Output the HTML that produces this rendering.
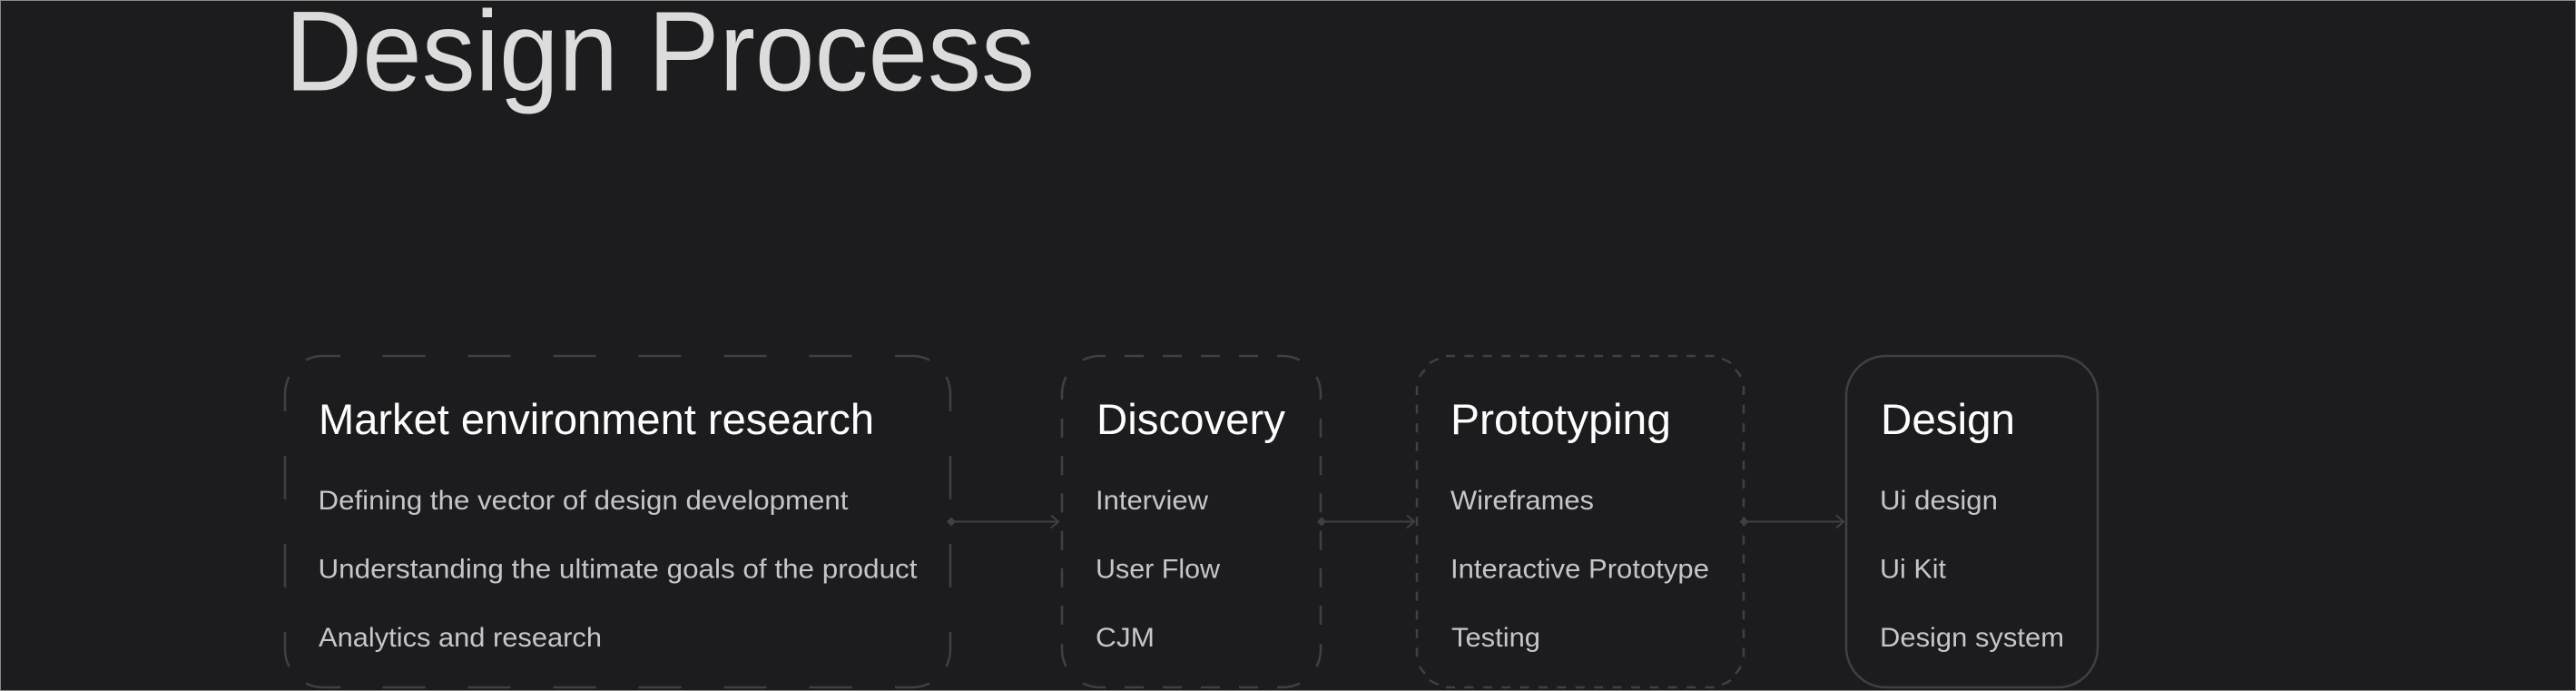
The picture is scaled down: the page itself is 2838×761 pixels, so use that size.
<!DOCTYPE html>
<html><head><meta charset="utf-8"><style>
html,body{margin:0;padding:0;background:#1c1c1e}
svg{display:block}
text{font-family:"Liberation Sans",sans-serif}
.h{font-size:47px;fill:#ffffff}
.i{font-size:30px;fill:#c6c6c8}
.b{fill:none;stroke:#404042;stroke-width:2.5}
.a{fill:none;stroke:#404042;stroke-width:2}
</style></head><body>
<svg width="2838" height="761" viewBox="0 0 2838 761" xmlns="http://www.w3.org/2000/svg">
<rect width="2838" height="761" fill="#1c1c1e"/>
<rect x="0.5" y="0.5" width="2837" height="760" fill="none" stroke="#8a8a8a" stroke-width="1"/>
<text x="314" y="99.5" font-size="125" fill="#dcdcdc" textLength="826" lengthAdjust="spacingAndGlyphs">Design Process</text>

<!-- Box 1 -->
<path class="b" d="M337 396.5A42 42 0 0 1 356 392H375M986 392H1005A42 42 0 0 1 1024 396.5M337 752.5A42 42 0 0 0 356 757H375M986 757H1005A42 42 0 0 0 1024 752.5M318.5 415A42 42 0 0 0 314 434V453M314 696V715A42 42 0 0 0 318.5 734M1042.5 415A42 42 0 0 1 1047 434V453M1047 696V715A42 42 0 0 1 1042.5 734M314 502V550M314 599V647M1047 502V550M1047 599V647"/>
<path class="b" stroke-dasharray="47 47" d="M421.5 392H939.5M421.5 757H939.5"/>

<!-- Box 2 -->
<path class="b" d="M1193 396.5A42 42 0 0 1 1212 392H1218M1407 392H1413A42 42 0 0 1 1432 396.5M1193 752.5A42 42 0 0 0 1212 757H1218M1407 757H1413A42 42 0 0 0 1432 752.5M1174.5 415A42 42 0 0 0 1170 434V440M1170 709V715A42 42 0 0 0 1174.5 734M1450.5 415A42 42 0 0 1 1455 434V440M1455 709V715A42 42 0 0 1 1450.5 734"/>
<path class="b" stroke-dasharray="21 21" d="M1239 392H1386M1239 757H1386"/>
<path class="b" stroke-dasharray="21 20.2" d="M1170 461V688M1455 461V688"/>

<!-- Box 3 -->
<path class="b" d="M1575 400A42 42 0 0 1 1585 395M1564 415A42 42 0 0 1 1570 407M1897 395A42 42 0 0 1 1907 400M1912 407A42 42 0 0 1 1918 415M1575 749A42 42 0 0 0 1585 754M1564 734A42 42 0 0 0 1570 742M1897 754A42 42 0 0 0 1907 749M1912 742A42 42 0 0 0 1918 734"/>
<path class="b" stroke-dasharray="10 10.4" d="M1593 392H1889M1593 757H1889"/>
<path class="b" stroke-dasharray="10 10.6" d="M1561 425V724M1921 425V724"/>

<!-- Box 4 -->
<rect class="b" x="2034" y="392" width="277" height="365" rx="44" ry="44"/>

<!-- Arrows -->
<path class="a" d="M1048 574.5H1166M1158 567.5L1166 574.5L1158 581.5"/>
<path d="M1048 569.5L1053 574.5L1048 579.5L1043 574.5Z" fill="#404042"/>
<path class="a" d="M1456 574.5H1558M1550 567.5L1558 574.5L1550 581.5"/>
<path d="M1456 569.5L1461 574.5L1456 579.5L1451 574.5Z" fill="#404042"/>
<path class="a" d="M1921.5 574.5H2031M2023 567.5L2031 574.5L2023 581.5"/>
<path d="M1921.5 569.5L1926.5 574.5L1921.5 579.5L1916.5 574.5Z" fill="#404042"/>

<!-- Text -->
<text class="h" x="351" y="478" textLength="612" lengthAdjust="spacingAndGlyphs">Market environment research</text>
<text class="i" x="350.5" y="561" textLength="584" lengthAdjust="spacingAndGlyphs">Defining the vector of design development</text>
<text class="i" x="350.5" y="636.5" textLength="660" lengthAdjust="spacingAndGlyphs">Understanding the ultimate goals of the product</text>
<text class="i" x="351" y="712" textLength="312" lengthAdjust="spacingAndGlyphs">Analytics and research</text>

<text class="h" x="1208" y="478" textLength="208" lengthAdjust="spacingAndGlyphs">Discovery</text>
<text class="i" x="1207" y="561" textLength="124" lengthAdjust="spacingAndGlyphs">Interview</text>
<text class="i" x="1207" y="636.5" textLength="137" lengthAdjust="spacingAndGlyphs">User Flow</text>
<text class="i" x="1207" y="712" textLength="65" lengthAdjust="spacingAndGlyphs">CJM</text>

<text class="h" x="1598" y="478" textLength="243" lengthAdjust="spacingAndGlyphs">Prototyping</text>
<text class="i" x="1598" y="561" textLength="158" lengthAdjust="spacingAndGlyphs">Wireframes</text>
<text class="i" x="1598" y="636.5" textLength="285" lengthAdjust="spacingAndGlyphs">Interactive Prototype</text>
<text class="i" x="1599" y="712" textLength="98" lengthAdjust="spacingAndGlyphs">Testing</text>

<text class="h" x="2072" y="478" textLength="148" lengthAdjust="spacingAndGlyphs">Design</text>
<text class="i" x="2071" y="561" textLength="130" lengthAdjust="spacingAndGlyphs">Ui design</text>
<text class="i" x="2071" y="636.5" textLength="73" lengthAdjust="spacingAndGlyphs">Ui Kit</text>
<text class="i" x="2071" y="712" textLength="203" lengthAdjust="spacingAndGlyphs">Design system</text>
</svg>
</body></html>
